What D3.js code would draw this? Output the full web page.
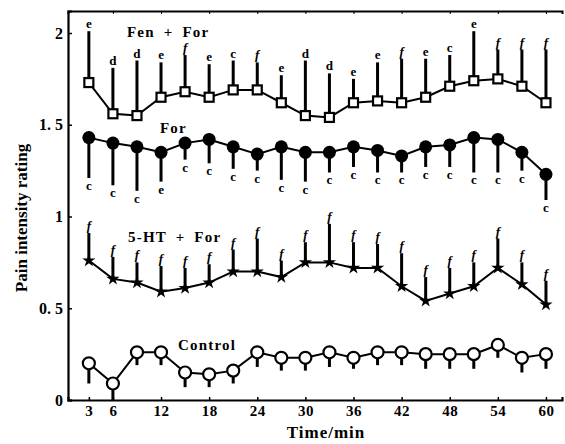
<!DOCTYPE html>
<html>
<head>
<meta charset="utf-8">
<script src="https://cdn.jsdelivr.net/npm/d3@7"></script>
<style>
  body { margin: 0; background: #fff; }
  svg { display: block; }
  text { font-family: "Liberation Serif", "DejaVu Serif", serif; font-weight: bold; fill: #000; }
</style>
</head>
<body>
<div id="chart"></div>
<script>
// time points (min)
const minutes = [3, 6, 9, 12, 15, 18, 21, 24, 27, 30, 33, 36, 39, 42, 45, 48, 51, 54, 57, 60];
const xTicks = [3, 6, 12, 18, 24, 30, 36, 42, 48, 54, 60];
const yTicks = [0, 0.5, 1, 1.5, 2];
const yTickLabels = ["0", "0. 5", "1", "1. 5", "2"];

// Fen + For (error bars up)
const fenFor = [1.73, 1.56, 1.55, 1.65, 1.68, 1.65, 1.69, 1.69, 1.62, 1.55, 1.54, 1.62, 1.63, 1.62, 1.65, 1.71, 1.74, 1.75, 1.71, 1.62];
const fenForErr = [2.01, 1.81, 1.85, 1.84, 1.88, 1.83, 1.85, 1.84, 1.77, 1.85, 1.78, 1.75, 1.84, 1.86, 1.86, 1.88, 2.01, 1.91, 1.91, 1.91];
const fenForSig = ["e", "d", "d", "e", "f", "e", "c", "f", "e", "d", "d", "e", "e", "f", "e", "c", "e", "f", "f", "f"];

// For (error bars down)
const forOnly = [1.43, 1.40, 1.38, 1.35, 1.40, 1.42, 1.38, 1.34, 1.38, 1.35, 1.35, 1.38, 1.36, 1.33, 1.38, 1.39, 1.43, 1.42, 1.35, 1.23];
const forErr = [1.21, 1.17, 1.14, 1.19, 1.31, 1.29, 1.26, 1.25, 1.20, 1.19, 1.24, 1.27, 1.24, 1.24, 1.27, 1.27, 1.24, 1.24, 1.25, 1.09];
const forSig = ["c", "c", "c", "e", "c", "c", "c", "c", "c", "c", "c", "c", "c", "c", "c", "c", "c", "c", "c", "c"];

// 5-HT + For (error bars up)
const htFor = [0.76, 0.66, 0.64, 0.59, 0.61, 0.64, 0.70, 0.70, 0.67, 0.75, 0.75, 0.72, 0.72, 0.62, 0.54, 0.58, 0.62, 0.72, 0.63, 0.52];
const htForErr = [0.91, 0.78, 0.75, 0.73, 0.72, 0.74, 0.82, 0.88, 0.76, 0.86, 0.96, 0.86, 0.85, 0.80, 0.67, 0.72, 0.75, 0.88, 0.75, 0.65];
const htForSig = ["f", "f", "f", "f", "f", "f", "f", "f", "f", "f", "f", "f", "f", "f", "f", "f", "f", "f", "f", "f"];

// Control (error bars down)
const control = [0.20, 0.09, 0.26, 0.26, 0.15, 0.14, 0.16, 0.26, 0.23, 0.23, 0.26, 0.23, 0.26, 0.26, 0.25, 0.25, 0.25, 0.30, 0.23, 0.25];
const controlErr = [0.09, 0.00, 0.19, 0.19, 0.07, 0.07, 0.09, 0.18, 0.16, 0.16, 0.18, 0.17, 0.19, 0.19, 0.17, 0.17, 0.17, 0.23, 0.15, 0.17];

const width = 565, height = 444;

const svg = d3.select("#chart").append("svg")
    .attr("width", width)
    .attr("height", height);

const x = d3.scaleLinear().domain([0.4, 62]).range([68, 562]);
const y = d3.scaleLinear().domain([0, 2.12]).range([400, 11]);

// axes
svg.append("g")
    .attr("transform", "translate(0,400)")
    .call(d3.axisBottom(x).tickValues(xTicks).tickSize(-3).tickPadding(5).tickFormat(d3.format("d")))
    .call(g => g.select(".domain").attr("stroke-width", 2.2))
    .call(g => g.selectAll(".tick line").attr("stroke-width", 1.5))
    .call(g => g.selectAll("text").style("font-size", "15px").style("letter-spacing", "0.5px"));

svg.append("g")
    .attr("transform", "translate(0,11)")
    .call(d3.axisTop(x).tickValues(xTicks.slice(1)).tickSize(-3).tickFormat(""))
    .call(g => g.select(".domain").attr("stroke-width", 2));

svg.append("g")
    .attr("transform", "translate(68,0)")
    .call(d3.axisLeft(y).tickValues(yTicks).tickSize(-4).tickPadding(5).tickFormat((d, i) => yTickLabels[i]))
    .call(g => g.select(".domain").attr("stroke-width", 2.2))
    .call(g => g.selectAll(".tick line").attr("stroke-width", 1.5))
    .call(g => g.selectAll("text").style("font-size", "16px"));

svg.append("text")
    .attr("x", 326)
    .attr("y", 438)
    .attr("text-anchor", "middle")
    .style("font-size", "17px")
    .style("letter-spacing", "1px")
    .text("Time/min");

svg.append("text")
    .attr("transform", "translate(27,218) rotate(-90)")
    .attr("text-anchor", "middle")
    .style("font-size", "17px")
    .text("Pain intensity rating");

const line = d3.line()
    .x((d, i) => x(minutes[i]))
    .y(d => y(d));

function drawSeries(values, errs, sigs, up, marker) {
  const g = svg.append("g");

  // error bars
  g.selectAll("line.err")
      .data(values)
      .join("line")
      .attr("class", "err")
      .attr("x1", (d, i) => x(minutes[i]))
      .attr("x2", (d, i) => x(minutes[i]))
      .attr("y1", d => y(d))
      .attr("y2", (d, i) => y(errs[i]))
      .attr("stroke", "#000")
      .attr("stroke-width", 3);

  if (sigs) {
    g.selectAll("text.sig")
        .data(sigs)
        .join("text")
        .attr("class", "sig")
        .attr("x", (d, i) => x(minutes[i]))
        .attr("y", (d, i) => up ? y(errs[i]) - 3 : y(errs[i]) + 12)
        .attr("text-anchor", "middle")
        .style("font-size", "13px")
        .style("font-style", d => d === "f" ? "italic" : "normal")
        .text(d => d);
  }

  g.append("path")
      .datum(values)
      .attr("fill", "none")
      .attr("stroke", "#000")
      .attr("stroke-width", 2)
      .attr("d", line);

  const pts = g.selectAll("g.pt")
      .data(values)
      .join("g")
      .attr("class", "pt")
      .attr("transform", (d, i) => `translate(${x(minutes[i])},${y(d)})`);

  if (marker === "square") {
    pts.append("rect")
        .attr("x", -4.5).attr("y", -4.5)
        .attr("width", 9).attr("height", 9)
        .attr("fill", "#fff").attr("stroke", "#000").attr("stroke-width", 2.2);
  } else if (marker === "dot") {
    pts.append("circle")
        .attr("r", 6.5)
        .attr("fill", "#000");
  } else if (marker === "ring") {
    pts.append("circle")
        .attr("r", 6)
        .attr("fill", "#fff").attr("stroke", "#000").attr("stroke-width", 2.2);
  } else {
    pts.append("path")
        .attr("d", d3.symbol(d3.symbolStar, 55))
        .attr("fill", "#000");
  }
}

drawSeries(fenFor, fenForErr, fenForSig, true, "square");
drawSeries(forOnly, forErr, forSig, false, "dot");
drawSeries(htFor, htForErr, htForSig, true, "star");
drawSeries(control, controlErr, null, false, "ring");

// series names
const names = [
  { text: "Fen + For", x: 127, y: 37 },
  { text: "For", x: 160, y: 133 },
  { text: "5-HT + For", x: 128, y: 242 },
  { text: "Control", x: 178, y: 350 }
];
svg.selectAll("text.name")
    .data(names)
    .join("text")
    .attr("class", "name")
    .attr("x", d => d.x)
    .attr("y", d => d.y)
    .style("font-size", "15px")
    .style("letter-spacing", "1.2px")
    .style("word-spacing", "4px")
    .text(d => d.text);
</script>
</body>
</html>
